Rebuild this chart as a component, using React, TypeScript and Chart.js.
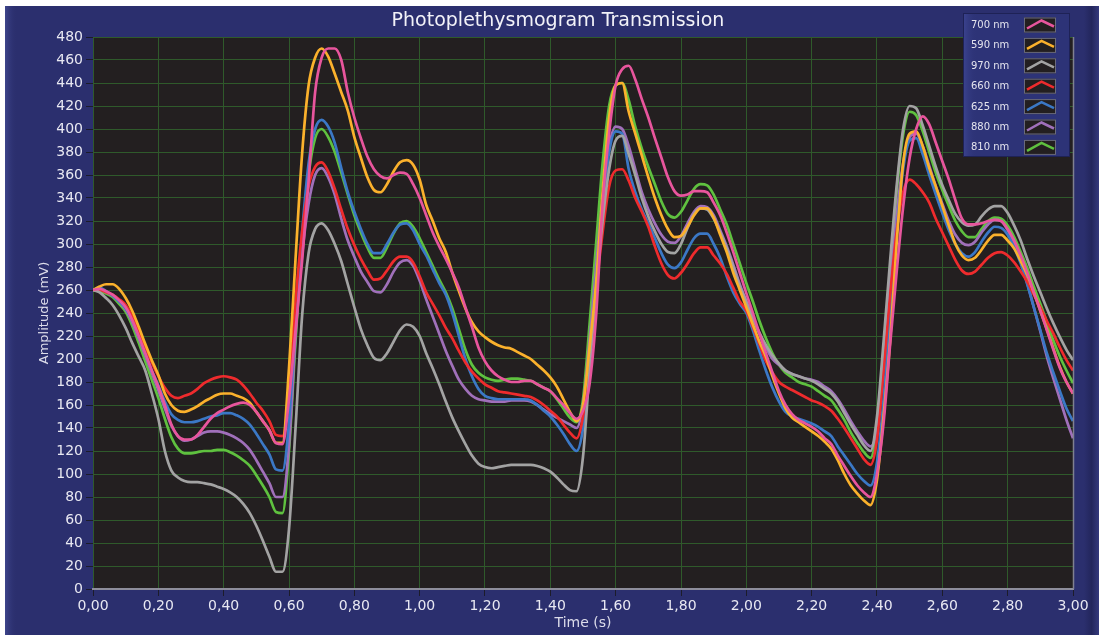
import React, { useEffect, useRef } from 'react';
import { Chart, registerables } from 'chart.js';

Chart.register(...registerables);

// ---------- data ----------
const TIME_STEP = 0.02;
const SAMPLE_COUNT = 151;
const TIMES: number[] = Array.from({ length: SAMPLE_COUNT }, (_, i) => Math.round(i * TIME_STEP * 100) / 100);

const SERIES_LABELS = ['700 nm', '590 nm', '970 nm', '660 nm', '625 nm', '880 nm', '810 nm'];
const SERIES_COLORS = ['#e8559d', '#fbb12c', '#a3a3a3', '#ef2b2d', '#3b78c6', '#a070ba', '#5fc13f'];

const NM700 = [
  260, 261, 259, 256, 251, 245, 234, 220, 205, 190,
  176, 160, 143, 133, 130, 130, 134, 141, 148, 153,
  156, 159, 161, 162, 160, 154, 146, 138, 127, 126,
  165, 225, 285, 355, 432, 462, 470, 470, 460, 432,
  410, 392, 376, 365, 359, 357, 360, 362, 361, 352,
  340, 325, 310, 298, 287, 275, 262, 245, 228, 210,
  198, 190, 185, 182, 180, 180, 181, 181, 178, 175,
  172, 166, 160, 153, 148, 155, 178, 237, 335, 396,
  438, 452, 455, 443, 426, 410, 392, 375, 358, 346,
  342, 343, 346, 346, 345, 336, 325, 310, 293, 275,
  257, 240, 222, 205, 188, 172, 160, 152, 147, 144,
  141, 137, 131, 126, 116, 107, 98, 90, 84, 80,
  100, 144, 212, 275, 332, 375, 400, 411, 404, 388,
  372, 356, 338, 322, 317, 317, 318, 320, 321, 320,
  313, 303, 290, 275, 258, 242, 225, 208, 192, 180,
  170,
];
const NM590 = [
  260, 263, 265, 265, 261, 253, 242, 228, 213, 199,
  186, 170, 160, 155, 154, 156, 159, 163, 166, 169,
  170, 170, 168, 166, 162, 154, 146, 138, 127, 127,
  192, 287, 378, 438, 462, 470, 463, 448, 432, 416,
  393, 375, 358, 347, 345, 352, 363, 371, 373, 369,
  356, 334, 320, 305, 293, 275, 259, 244, 232, 224,
  219, 215, 212, 210, 209, 206, 203, 200, 195, 190,
  184, 176, 165, 154, 146, 160, 210, 266, 345, 410,
  438, 440, 415, 396, 377, 358, 340, 325, 313, 306,
  307, 315, 325, 331, 331, 323, 308, 293, 275, 260,
  245, 230, 215, 202, 185, 170, 157, 149, 145, 141,
  137, 133, 128, 122, 112, 100, 90, 83, 77, 73,
  95, 150, 215, 300, 370, 396, 398, 385, 366, 350,
  333, 316, 300, 290, 286, 288, 295, 303, 308, 308,
  303, 296, 285, 273, 258, 242, 226, 209, 193, 180,
  170,
];
const NM970 = [
  260, 258, 253, 247, 238, 227, 214, 202, 190, 170,
  148, 120, 103, 97, 94, 93, 93, 92, 91, 89,
  87, 84, 80, 74, 66, 55, 42, 28, 15, 15,
  52, 140, 237, 292, 313, 318, 312, 300, 285, 265,
  245, 226, 212, 201, 199, 205, 215, 225, 230, 228,
  220, 205, 192, 178, 163, 149, 137, 126, 116, 109,
  106, 105, 106, 107, 108, 108, 108, 108, 107, 105,
  102, 97, 91, 86, 85, 115, 190, 260, 320, 365,
  390, 394, 378, 360, 340, 324, 311, 300, 293, 292,
  300, 314, 326, 331, 330, 322, 310, 296, 280, 263,
  250, 236, 223, 212, 203, 196, 190, 187, 185, 183,
  181, 178, 174, 170, 163, 153, 143, 134, 125, 120,
  150, 215, 285, 350, 400, 420, 418, 403, 385, 367,
  351, 338, 326, 319, 316, 317, 324, 330, 333, 333,
  327, 316, 303, 287, 272, 258, 244, 231, 219, 208,
  199,
];
const NM660 = [
  260, 260, 258, 256, 252, 247, 237, 224, 211, 197,
  185, 175, 168, 166, 168, 170, 174, 179, 182, 184,
  185, 184, 182, 177, 170, 162, 155, 146, 134, 133,
  170, 250, 310, 350, 367, 371, 363, 348, 330, 313,
  299, 287, 277, 269, 270, 277, 285, 289, 289, 284,
  272, 258, 248, 238, 227, 218, 207, 197, 189, 183,
  178, 175, 172, 171, 170, 169, 168, 167, 164, 160,
  155, 150, 143, 136, 131, 150, 200, 260, 310, 350,
  364, 365, 355, 340, 328, 315, 298, 283, 273, 270,
  275, 283, 292, 297, 297, 290, 283, 274, 262, 250,
  242, 228, 213, 198, 188, 180, 176, 173, 170, 167,
  164, 162, 159, 155, 148, 140, 131, 122, 113, 108,
  130, 190, 255, 310, 345, 356, 352, 345, 336, 322,
  310, 298, 286, 277, 274, 276, 282, 288, 292, 293,
  290, 284, 276, 267, 256, 245, 233, 222, 210, 199,
  190,
];
const NM625 = [
  260, 262, 259, 255, 250, 244, 234, 220, 205, 190,
  177, 163, 152, 147, 145, 145, 146, 148, 150, 151,
  153, 153, 151, 148, 143, 135, 126, 117, 104, 103,
  145, 235, 310, 370, 400, 408, 402, 388, 366, 345,
  328, 313, 300, 292, 292, 300, 310, 317, 318, 312,
  300, 290, 278, 266, 256, 240, 220, 200, 185, 174,
  168, 166, 165, 165, 165, 165, 165, 164, 160, 155,
  150, 143, 135, 126, 120, 140, 200, 270, 330, 380,
  398, 396, 365, 345, 330, 318, 305, 292, 282, 279,
  284, 295, 305, 309, 309, 300, 288, 272, 258, 248,
  240, 225, 207, 190, 175, 163, 154, 150, 148, 146,
  144, 141, 137, 133, 124, 116, 108, 100, 94, 90,
  110, 165, 240, 310, 365, 390, 392, 378, 360, 343,
  327, 312, 300, 292, 289, 293, 302, 310, 315, 314,
  308, 297, 283, 265, 245, 225, 205, 188, 172, 157,
  146,
];
const NM880 = [
  260, 260, 258, 255, 250, 243, 232, 218, 203, 188,
  173, 157, 142, 133, 129, 130, 133, 136, 137, 137,
  136, 134, 131, 127, 121, 112, 102, 92, 80, 80,
  125, 220, 290, 335, 360, 366, 358, 343, 322, 303,
  289, 276, 267, 259, 258, 265, 276, 284, 286, 281,
  268, 252, 237, 222, 207, 194, 182, 174, 168, 165,
  164, 163, 163, 163, 164, 164, 164, 163, 160, 156,
  152, 149, 146, 143, 140, 160, 215, 280, 340, 385,
  402, 400, 385, 365, 345, 330, 318, 308, 302, 301,
  307, 318, 328, 333, 332, 325, 312, 298, 282, 265,
  250, 235, 222, 210, 200, 195, 190, 187, 185, 183,
  182, 180, 176, 172, 165, 156, 146, 137, 129, 124,
  140, 200, 265, 325, 370, 393, 396, 385, 368, 350,
  335, 320, 308, 301, 299, 302, 310, 317, 321, 320,
  312, 300, 285, 266, 245, 224, 202, 183, 165, 147,
  131,
];
const NM810 = [
  260, 259, 257, 254, 248, 241, 229, 214, 198, 182,
  166, 148, 132, 122, 118, 118, 119, 120, 120, 121,
  121, 119, 116, 112, 107, 99, 90, 80, 67, 66,
  120, 215, 300, 360, 392, 400, 393, 380, 362, 343,
  325, 310, 297, 288, 288, 297, 309, 318, 320, 315,
  305, 293, 281, 269, 258, 244, 226, 208, 195, 188,
  184, 182, 181, 182, 183, 183, 182, 181, 178, 175,
  172, 165, 157, 149, 145, 165, 230, 300, 370, 420,
  438, 440, 425, 402, 383, 367, 352, 337, 326, 323,
  328, 338, 348, 352, 351, 343, 330, 317, 300, 283,
  266, 250, 233, 218, 205, 195, 188, 184, 180, 178,
  176, 172, 168, 164, 156, 147, 136, 127, 119, 114,
  140, 200, 275, 345, 395, 415, 412, 398, 380, 362,
  347, 333, 320, 311, 306, 306, 313, 320, 323, 322,
  316, 306, 293, 279, 263, 248, 232, 216, 202, 190,
  179,
];

const SERIES_VALUES = [NM700, NM590, NM970, NM660, NM625, NM880, NM810];

const CHART_TITLE = 'Photoplethysmogram Transmission';
const X_TITLE = 'Time (s)';
const Y_TITLE = 'Amplitude (mV)';
const X_MIN = 0;
const X_MAX = 3;
const X_STEP = 0.2;
const Y_MIN = 0;
const Y_MAX = 480;
const Y_STEP = 20;

// ---------- styling ----------
const FONT = 'DejaVu Sans';
const NAVY = '#2b2f6e';
const PLOT_BG = '#231f20';
const GRID = '#2f5a2b';
const TICK_TEXT = '#e8e8f2';

const decorPlugin = {
  id: 'decor',
  beforeDraw(chart: any) {
    const { ctx, width, height, chartArea } = chart;
    ctx.save();
    ctx.fillStyle = '#ffffff';
    ctx.fillRect(0, 0, width, height);
    ctx.fillStyle = NAVY;
    ctx.fillRect(5, 6, width - 5, height - 6);
    const gl = ctx.createLinearGradient(5, 0, 17, 0);
    gl.addColorStop(0, '#3e458c');
    gl.addColorStop(1, 'rgba(43,47,110,0)');
    ctx.fillStyle = gl;
    ctx.fillRect(5, 6, 12, height - 6);
    const gr = ctx.createLinearGradient(1084, 0, 1099, 0);
    gr.addColorStop(0, 'rgba(20,22,60,0)');
    gr.addColorStop(0.5, 'rgba(20,22,60,0.35)');
    gr.addColorStop(1, 'rgba(70,76,150,0.35)');
    ctx.fillStyle = gr;
    ctx.fillRect(1084, 6, 15, height - 6);
    ctx.fillStyle = PLOT_BG;
    ctx.fillRect(chartArea.left, chartArea.top, chartArea.right - chartArea.left, chartArea.bottom - chartArea.top);
    ctx.restore();
  },
  afterDraw(chart: any) {
    const { ctx, chartArea } = chart;
    ctx.save();
    // right border of plot
    ctx.strokeStyle = '#80808f';
    ctx.lineWidth = 1.5;
    ctx.beginPath();
    ctx.moveTo(chartArea.right + 0.5, chartArea.top);
    ctx.lineTo(chartArea.right + 0.5, chartArea.bottom);
    ctx.stroke();

    // title
    ctx.fillStyle = '#f2f2f8';
    ctx.font = `19px "${FONT}"`;
    ctx.textAlign = 'center';
    ctx.textBaseline = 'middle';
    ctx.fillText(CHART_TITLE, 558, 21);

    // legend box
    const bx = 963, by = 13, bw = 107, bh = 144;
    ctx.fillStyle = '#2d3377';
    ctx.fillRect(bx, by, bw, bh);
    const lg = ctx.createLinearGradient(bx, 0, bx + 14, 0);
    lg.addColorStop(0, '#3c4490');
    lg.addColorStop(1, 'rgba(45,51,119,0)');
    ctx.fillStyle = lg;
    ctx.fillRect(bx, by, 14, bh);
    ctx.strokeStyle = '#1e2256';
    ctx.lineWidth = 1;
    ctx.strokeRect(bx + 0.5, by + 0.5, bw - 1, bh - 1);

    const datasets = chart.data.datasets;
    ctx.font = `10px "${FONT}"`;
    ctx.textAlign = 'left';
    ctx.textBaseline = 'middle';
    datasets.forEach((ds: any, i: number) => {
      const cy = 25 + i * 20.4;
      ctx.fillStyle = '#e4e4ee';
      ctx.fillText(ds.label, 971, cy + 0.5);
      ctx.fillStyle = PLOT_BG;
      ctx.fillRect(1024, cy - 7.5, 32, 15);
      ctx.strokeStyle = '#6a6a7c';
      ctx.lineWidth = 1;
      ctx.strokeRect(1024.5, cy - 7, 31, 14);
      ctx.strokeStyle = ds.borderColor;
      ctx.lineWidth = 2.5;
      ctx.lineJoin = 'miter';
      ctx.beginPath();
      ctx.moveTo(1027, cy + 3.5);
      ctx.lineTo(1041.5, cy - 4.5);
      ctx.lineTo(1054, cy + 1.5);
      ctx.stroke();
    });
    ctx.restore();
  },
};

export default function App() {
  const canvasRef = useRef<HTMLCanvasElement | null>(null);

  useEffect(() => {
    const canvas = canvasRef.current;
    if (!canvas) return;
    const datasets = SERIES_LABELS.map((label, si) => ({
      label,
      data: TIMES.map((t, i) => ({ x: t, y: SERIES_VALUES[si][i] })),
      borderColor: SERIES_COLORS[si],
      backgroundColor: SERIES_COLORS[si],
      borderWidth: 2.7,
      pointRadius: 0,
      cubicInterpolationMode: 'monotone' as const,
      fill: false,
    }));

    const chart = new Chart(canvas, {
      type: 'line',
      data: { datasets },
      plugins: [decorPlugin],
      options: {
        animation: false,
        responsive: false,
        maintainAspectRatio: false,
        events: [],
        layout: { padding: { left: 0, top: 37, right: 26, bottom: 0 } },
        plugins: {
          legend: { display: false },
          title: { display: false },
          tooltip: { enabled: false },
        },
        scales: {
          x: {
            type: 'linear',
            min: X_MIN,
            max: X_MAX,
            afterFit: (scale: any) => {
              scale.height = 46;
            },
            ticks: {
              stepSize: X_STEP,
              autoSkip: false,
              maxRotation: 0,
              padding: 2,
              color: TICK_TEXT,
              font: { family: FONT, size: 14 },
              callback: (v: any) => Number(v).toFixed(2).replace('.', ','),
            },
            grid: {
              color: GRID,
              lineWidth: 1,
              tickColor: '#1c1c2a',
              tickLength: 7,
            },
            border: { display: true, color: '#8d8d9b', width: 2 },
            title: {
              display: true,
              text: X_TITLE,
              color: '#dcdcea',
              font: { family: FONT, size: 14 },
              padding: { top: 0, bottom: 3 },
            },
          },
          y: {
            type: 'linear',
            min: Y_MIN,
            max: Y_MAX,
            afterFit: (scale: any) => {
              scale.width = 93;
            },
            ticks: {
              stepSize: Y_STEP,
              autoSkip: false,
              padding: 3,
              color: TICK_TEXT,
              font: { family: FONT, size: 14 },
            },
            grid: {
              color: GRID,
              lineWidth: 1,
              tickColor: '#1c1c2a',
              tickLength: 7,
            },
            border: { display: false },
            title: {
              display: true,
              text: Y_TITLE,
              color: '#dcdcea',
              font: { family: FONT, size: 13 },
              padding: { top: 37, bottom: 0 },
            },
          },
        },
      },
    });
    return () => chart.destroy();
  }, []);

  return (
    <div style={{ position: 'fixed', left: 0, top: 0, width: 1099, height: 635, background: '#fff' }}>
      <canvas ref={canvasRef} width={1099} height={635} style={{ display: 'block', width: 1099, height: 635 }} />
    </div>
  );
}
